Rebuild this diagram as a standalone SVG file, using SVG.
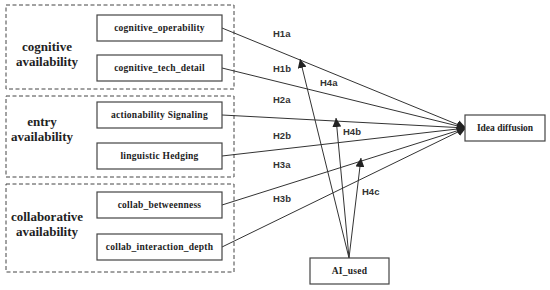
<svg xmlns="http://www.w3.org/2000/svg" width="550" height="290" viewBox="0 0 550 290">
<style>
.grp{fill:none;stroke:#444;stroke-width:1;stroke-dasharray:4,2.5}
.box{fill:#fff;stroke:#444;stroke-width:1.2}
.nt{font-family:"Liberation Serif",serif;font-weight:bold;font-size:9.5px;fill:#222;text-anchor:middle;letter-spacing:0.25px}
.gt{font-family:"Liberation Serif",serif;font-weight:bold;font-size:13px;fill:#222;text-anchor:middle}
.lb{font-family:"Liberation Sans",sans-serif;font-weight:bold;font-size:9.5px;fill:#333}
.ln{stroke:#333;stroke-width:1;fill:none}
</style>
<defs>
<marker id="ah" viewBox="0 0 10 10" refX="10" refY="5" markerWidth="9" markerHeight="9" markerUnits="userSpaceOnUse" orient="auto">
<path d="M0,0 L10,5 L0,10 z" fill="#222"/>
</marker>
</defs>
<g id="groups">
<rect class="grp" x="6" y="5" width="228" height="84"/>
<text class="gt" x="47" y="51">cognitive</text>
<text class="gt" x="47" y="66">availability</text>
<rect class="grp" x="6" y="96" width="228" height="81"/>
<text class="gt" x="42" y="126">entry</text>
<text class="gt" x="42" y="141">availability</text>
<rect class="grp" x="6" y="184" width="228" height="88"/>
<text class="gt" x="47" y="221">collaborative</text>
<text class="gt" x="47" y="236">availability</text>
</g>
<g id="connectors">
<line class="ln" x1="222" y1="28" x2="466" y2="128" marker-end="url(#ah)"/>
<line class="ln" x1="222" y1="68" x2="466" y2="128" marker-end="url(#ah)"/>
<line class="ln" x1="222" y1="115" x2="466" y2="128" marker-end="url(#ah)"/>
<line class="ln" x1="222" y1="156" x2="466" y2="128" marker-end="url(#ah)"/>
<line class="ln" x1="222" y1="205" x2="466" y2="128" marker-end="url(#ah)"/>
<line class="ln" x1="222" y1="247" x2="466" y2="128" marker-end="url(#ah)"/>
<line class="ln" x1="349" y1="258" x2="300" y2="59" marker-end="url(#ah)"/>
<line class="ln" x1="349" y1="258" x2="336" y2="118" marker-end="url(#ah)"/>
<line class="ln" x1="349" y1="258" x2="361" y2="158" marker-end="url(#ah)"/>
</g>
<g id="labels">
<text class="lb" x="273" y="37">H1a</text>
<text class="lb" x="273" y="72">H1b</text>
<text class="lb" x="320" y="86">H4a</text>
<text class="lb" x="273" y="103">H2a</text>
<text class="lb" x="343" y="135">H4b</text>
<text class="lb" x="273" y="139">H2b</text>
<text class="lb" x="273" y="168">H3a</text>
<text class="lb" x="273" y="202">H3b</text>
<text class="lb" x="362" y="195">H4c</text>
</g>
<g id="n1"><rect class="box" x="97" y="15" width="125" height="26"/><text class="nt" x="159.5" y="31">cognitive_operability</text></g>
<g id="n2"><rect class="box" x="97" y="55" width="125" height="26"/><text class="nt" x="159.5" y="71">cognitive_tech_detail</text></g>
<g id="n3"><rect class="box" x="97" y="102" width="125" height="26"/><text class="nt" x="159.5" y="118">actionability Signaling</text></g>
<g id="n4"><rect class="box" x="97" y="143" width="125" height="26"/><text class="nt" x="159.5" y="159">linguistic Hedging</text></g>
<g id="n5"><rect class="box" x="97" y="192" width="125" height="26"/><text class="nt" x="159.5" y="208">collab_betweenness</text></g>
<g id="n6"><rect class="box" x="97" y="234" width="125" height="26"/><text class="nt" x="159.5" y="250">collab_interaction_depth</text></g>
<g id="n7"><rect class="box" x="465" y="115" width="80" height="26"/><text class="nt" x="505" y="131" style="letter-spacing:0">Idea diffusion</text></g>
<g id="n8"><rect class="box" x="310" y="258" width="79" height="26"/><text class="nt" x="349.5" y="274">AI_used</text></g>
</svg>
